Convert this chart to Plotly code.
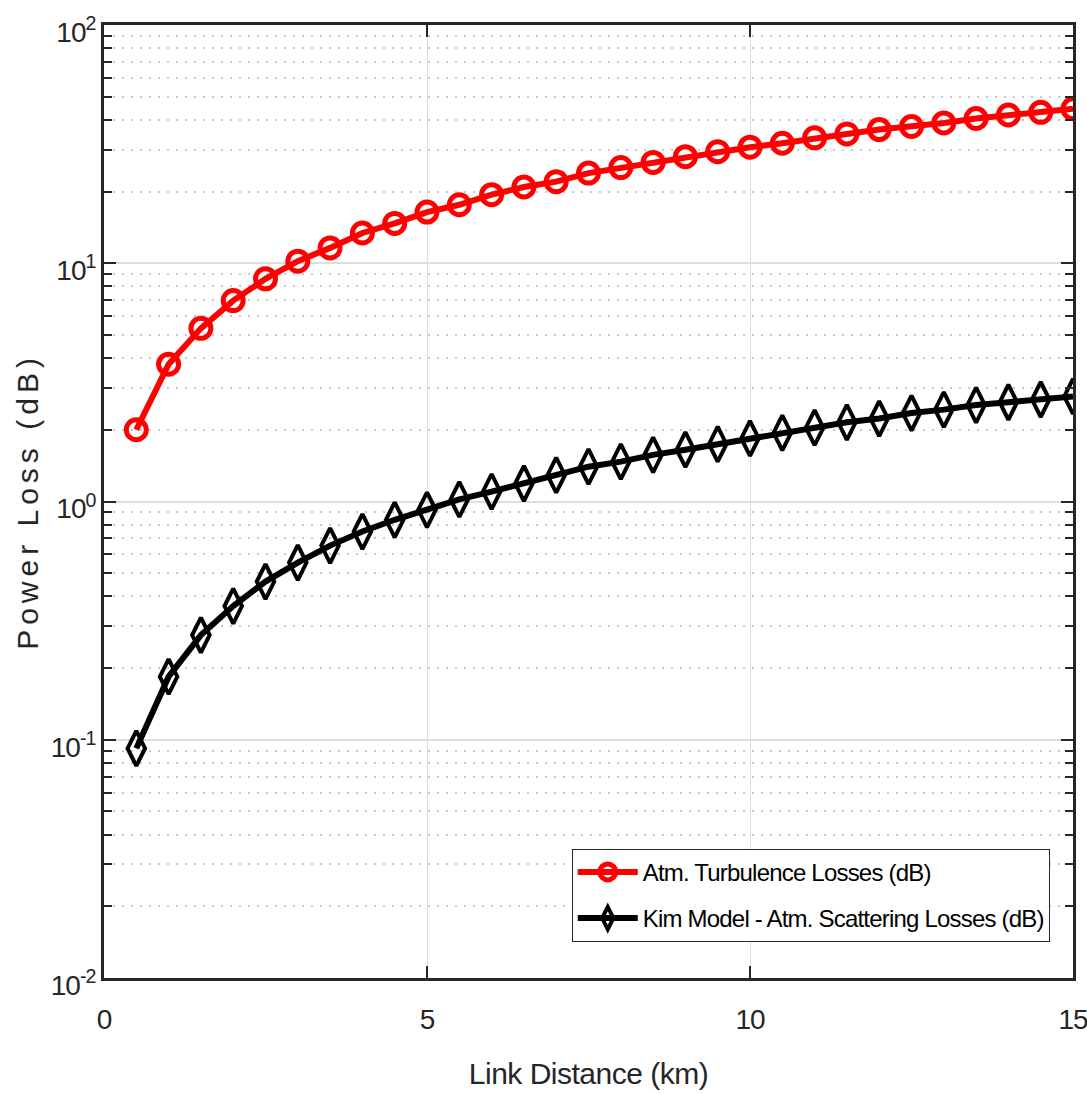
import plotly.graph_objects as go

# Link distance samples (km)
distance_km = [0.5, 1.0, 1.5, 2.0, 2.5, 3.0, 3.5, 4.0, 4.5, 5.0,
               5.5, 6.0, 6.5, 7.0, 7.5, 8.0, 8.5, 9.0, 9.5, 10.0,
               10.5, 11.0, 11.5, 12.0, 12.5, 13.0, 13.5, 14.0, 14.5, 15.0]

# Atmospheric turbulence losses (dB)
turbulence_db = [2.0, 3.77, 5.33, 6.97, 8.6, 10.2, 11.6, 13.4, 14.7, 16.4,
                 17.6, 19.4, 20.9, 22.0, 23.9, 25.2, 26.5, 28.0, 29.4, 30.7,
                 31.9, 33.6, 34.9, 36.4, 37.5, 38.8, 40.5, 41.9, 43.0, 44.5]

# Kim model atmospheric scattering losses (dB)
scattering_db = [0.092, 0.184, 0.275, 0.364, 0.461, 0.554, 0.653, 0.748, 0.838, 0.923,
                 1.02, 1.10, 1.19, 1.29, 1.40, 1.47, 1.57, 1.65, 1.74, 1.84,
                 1.94, 2.04, 2.15, 2.23, 2.35, 2.43, 2.54, 2.61, 2.68, 2.76]

x_tick_vals = [0, 5, 10, 15]
x_tick_text = ["0", "5", "10", "15"]
y_tick_vals = [0.01, 0.1, 1, 10, 100]
y_tick_text = ["10<sup>-2</sup>", "10<sup>-1</sup>", "10<sup>0</sup>",
               "10<sup>1</sup>", "10<sup>2</sup>"]

FONT = "Liberation Sans, Arial, sans-serif"
AXIS_COLOR = "#262626"


def tight(text, spacing):
    """Wrap a label in a span with adjusted letter spacing."""
    return f'<span style="letter-spacing:{spacing}px">{text}</span>'


fig = go.Figure()

fig.add_trace(go.Scatter(
    x=distance_km, y=turbulence_db, mode="lines+markers",
    name=tight("Atm. Turbulence Losses (dB)", -0.8),
    legendgroup="turb",
    line=dict(color="#ff0000", width=6),
    marker=dict(symbol="circle-open", size=20, color="#ff0000",
                line=dict(width=5, color="#ff0000")),
))

fig.add_trace(go.Scatter(
    x=distance_km, y=scattering_db, mode="lines+markers",
    name=tight("Kim Model - Atm. Scattering Losses (dB)", -0.8),
    legendgroup="scat",
    line=dict(color="#000000", width=6),
    marker=dict(symbol="diamond-tall-open", size=25, color="#000000",
                line=dict(width=4, color="#000000")),
))

fig.update_layout(
    width=1087, height=1094,
    margin=dict(l=104, r=14, t=25, b=116, autoexpand=False),
    paper_bgcolor="white", plot_bgcolor="white",
    font=dict(family=FONT, color=AXIS_COLOR),
    showlegend=True,
    legend=dict(
        x=0.976, y=0.038, xanchor="right", yanchor="bottom",
        bgcolor="white", bordercolor="#262626", borderwidth=1,
        font=dict(family=FONT, size=24, color="#000000"),
        tracegroupgap=12, itemwidth=60,
    ),
)

fig.update_xaxes(
    range=[0, 15], automargin=False,
    tickmode="array", tickvals=x_tick_vals,
    ticktext=[tight(t, -1) for t in x_tick_text],
    ticks="inside", ticklen=12, tickwidth=2, tickcolor=AXIS_COLOR,
    showline=True, linecolor=AXIS_COLOR, linewidth=3, mirror="ticks",
    showgrid=True, gridcolor="#dedede", gridwidth=1,
    zeroline=False, ticklabeloverflow="allow", ticklabelstandoff=14,
    tickfont=dict(family=FONT, size=28, color=AXIS_COLOR),
    title=dict(text=tight("Link Distance (km)", -0.5),
               font=dict(family=FONT, size=30, color=AXIS_COLOR), standoff=30),
)

fig.update_yaxes(
    type="log", range=[-2, 2], automargin=False,
    tickmode="array", tickvals=y_tick_vals,
    ticktext=[tight(t, -1) for t in y_tick_text],
    ticks="inside", ticklen=12, tickwidth=2, tickcolor=AXIS_COLOR,
    showline=True, linecolor=AXIS_COLOR, linewidth=3, mirror="ticks",
    showgrid=True, gridcolor="#dedede", gridwidth=1.5,
    zeroline=False, ticklabelshift=7, ticklabeloverflow="allow",
    minor=dict(ticks="inside", ticklen=8, tickwidth=2, tickcolor=AXIS_COLOR,
               dtick="D1", showgrid=True, gridcolor="#c8c8c8",
               griddash="2px,7px", gridwidth=2),
    tickfont=dict(family=FONT, size=28, color=AXIS_COLOR),
    title=dict(text=tight("Power Loss (dB)", 5),
               font=dict(family=FONT, size=30, color=AXIS_COLOR), standoff=4),
)

fig.write_html("out.html")
